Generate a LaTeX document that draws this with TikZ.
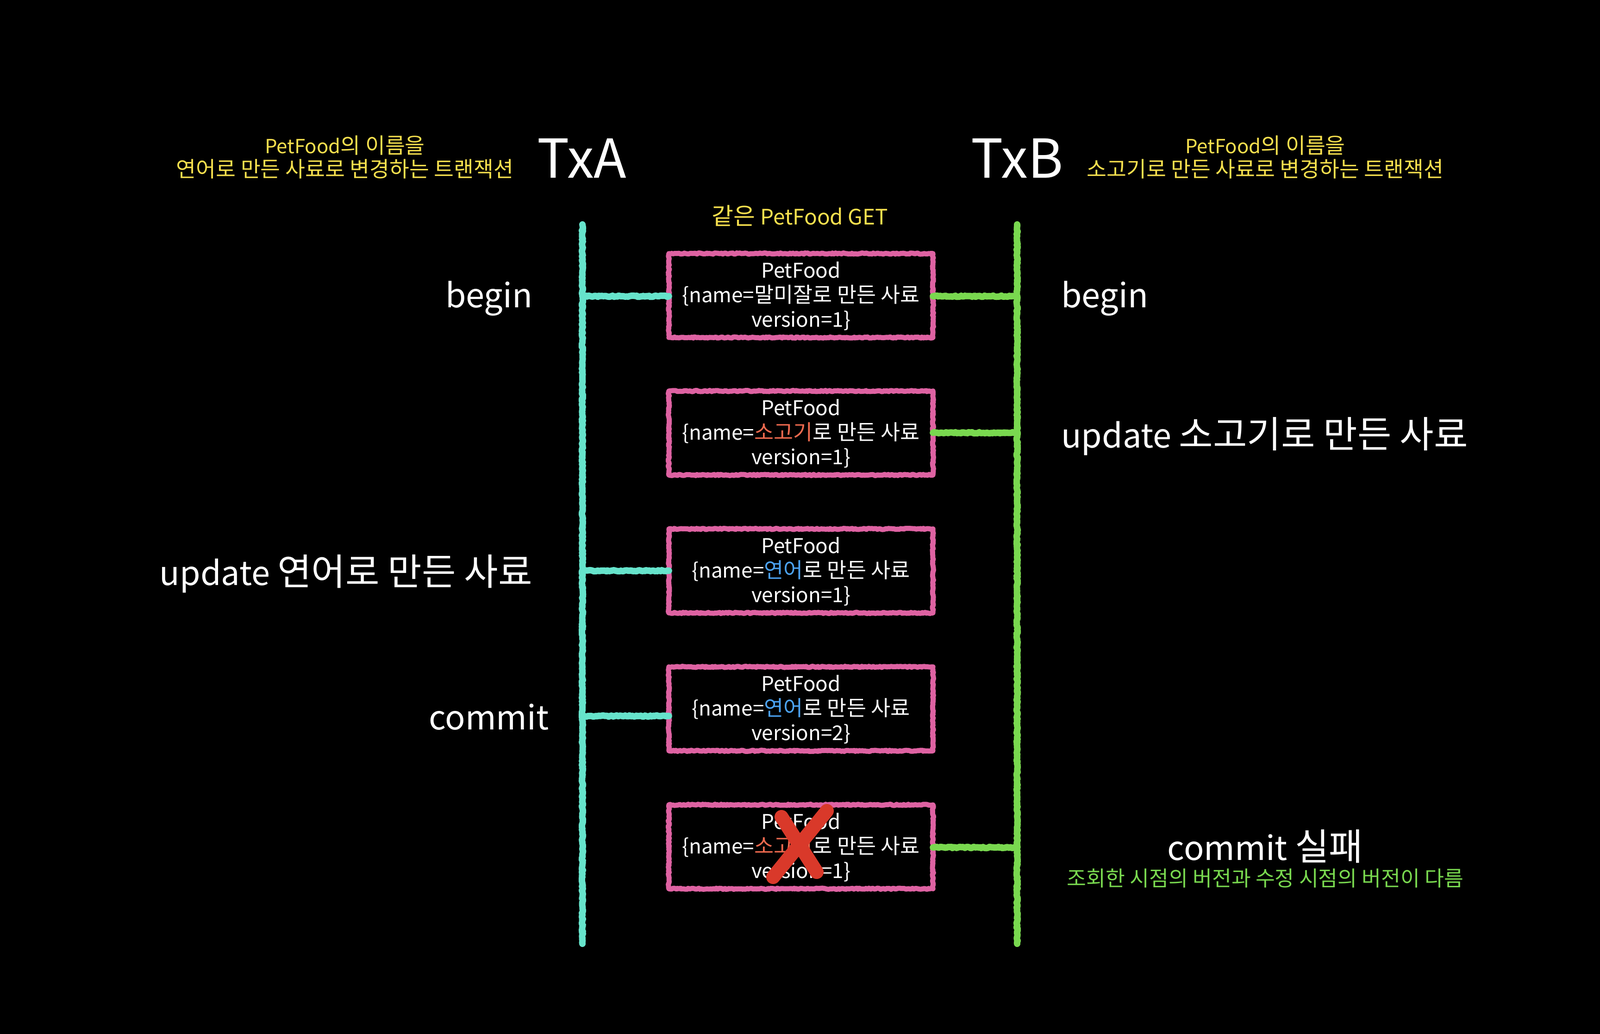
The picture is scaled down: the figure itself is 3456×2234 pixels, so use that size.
\documentclass[tikz,border=0pt]{standalone}
\usepackage{fontspec}
\setmainfont{Noto Sans CJK KR}
\usetikzlibrary{decorations.pathmorphing}
\definecolor{cyanc}{HTML}{66E3CB}
\definecolor{greenc}{HTML}{79D84F}
\definecolor{pinkc}{HTML}{DE62A2}
\definecolor{yellowc}{HTML}{F6E04E}
\definecolor{redx}{HTML}{D9392A}
\definecolor{orangec}{HTML}{EE6A4F}
\definecolor{bluec}{HTML}{4CA3F2}
\newcommand\myfs[2]{\fontsize{#1}{#2}\selectfont}
\newcommand\ko[1]{{\addfontfeatures{Scale=1.11}#1}}
\newcommand\kob[1]{{\addfontfeatures{Scale=1.04}#1}}
\tikzset{
  chalk/.style={line join=round, line cap=round, decorate,
    decoration={random steps, segment length=3pt, amplitude=1.3pt}},
  alink/.style={chalk, draw=cyanc, line width=14pt},
  blink/.style={chalk, draw=greenc, line width=14pt},
  pborder/.style={chalk, draw=pinkc, line width=11pt},
  pbox/.style={minimum width=570pt, minimum height=178pt, inner sep=0pt,
    text=white, align=center, font=\myfs{44}{53}},
  biglab/.style={text=white, font=\myfs{72}{86}, inner sep=0pt},
  txlab/.style={text=white, font=\myfs{116}{130}, inner sep=0pt},
  ylab/.style={text=yellowc, font=\myfs{42}{51}, align=center, inner sep=0pt},
  xstroke/.style={draw=redx, line width=30pt, line cap=round}
}
\begin{document}
\begin{tikzpicture}[x=1pt,y=-1pt]
\fill[black] (0,0) rectangle (3456,2234);
\useasboundingbox (0,0) rectangle (3456,2234);

% titles
\node[txlab] (txa) at (1257,342) {TxA};
\node[txlab] (txb) at (2197,342) {TxB};
\node[ylab] (ya) at (745,340) {PetFood\ko{의 이름을}\\\ko{연어로 만든 사료로 변경하는 트랜잭션}};
\node[ylab] (yb) at (2733,340) {PetFood\ko{의 이름을}\\\ko{소고기로 만든 사료로 변경하는 트랜잭션}};
\node[ylab, font=\myfs{46}{55}] (get) at (1728,466) {\ko{같은} PetFood GET};

% timelines
\coordinate (atop) at (1258,485);
\coordinate (abot) at (1258,2039);
\coordinate (btop) at (2197,485);
\coordinate (bbot) at (2197,2039);
\draw[alink] (atop) -- (abot);
\draw[blink] (btop) -- (bbot);

% boxes
\node[pbox] (b1) at (1730,640) {PetFood\\\{name=\kob{말미잘로 만든 사료}\\version=1\}};
\node[pbox] (b2) at (1730,937) {PetFood\\\{name=\textcolor{orangec}{\kob{소고기}}\kob{로 만든 사료}\\version=1\}};
\node[pbox] (b3) at (1730,1235) {PetFood\\\{name=\textcolor{bluec}{\kob{연어}}\kob{로 만든 사료}\\version=1\}};
\node[pbox] (b4) at (1730,1533) {PetFood\\\{name=\textcolor{bluec}{\kob{연어}}\kob{로 만든 사료}\\version=2\}};
\node[pbox] (b5) at (1730,1831) {PetFood\\\{name=\textcolor{orangec}{\kob{소고기}}\kob{로 만든 사료}\\version=1\}};

\foreach \b in {b1,b2,b3,b4,b5}{
  \draw[pborder] ([yshift=3pt]\b.north west) -- ([yshift=3pt]\b.north east) -- (\b.south east) -- (\b.south west) -- cycle;
}

% connectors
\draw[alink] (b1.west -| atop) -- (b1.west);
\draw[blink] (b1.east) -- (b1.east -| btop);
\draw[blink] ([yshift=2pt]b2.east) -- ([yshift=2pt]b2.east -| btop);
\draw[alink] ([yshift=2pt]b3.west -| atop) -- ([yshift=2pt]b3.west);
\draw[alink] ([yshift=-14pt]b4.west -| atop) -- ([yshift=-14pt]b4.west);
\draw[blink] (b5.east) -- (b5.east -| btop);

% red X
\draw[xstroke] (1670,1895) -- (1786,1752);
\draw[xstroke] (1688,1765) -- (1764,1884);

% labels
\node[biglab] (beginA) at (1056,645) {begin};
\node[biglab, anchor=east] (updA) at (1150,1240) {update \ko{연어로 만든 사료}};
\node[biglab] (commitA) at (1056,1549) {commit};
\node[biglab, anchor=west] (beginB) at (2292,645) {begin};
\node[biglab, anchor=west] (updB) at (2292,943) {update \ko{소고기로 만든 사료}};
\node[biglab] (commitB) at (2733,1829) {commit \ko{실패}};
\node[text=greenc, font=\myfs{41}{50}, inner sep=0pt] (fail) at (2733,1897) {\ko{조회한 시점의 버전과 수정 시점의 버전이 다름}};
\end{tikzpicture}
\end{document}
